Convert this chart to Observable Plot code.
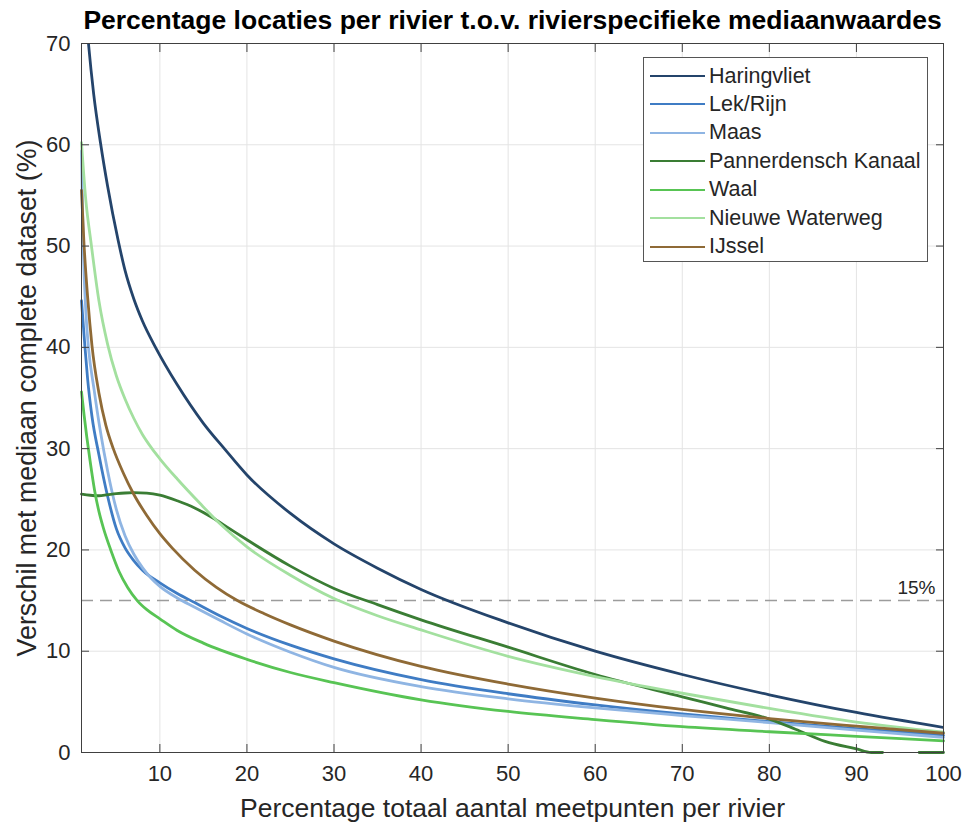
<!DOCTYPE html>
<html><head><meta charset="utf-8">
<script src="https://cdn.jsdelivr.net/npm/d3@7"></script>
<script src="https://cdn.jsdelivr.net/npm/@observablehq/plot@0.6"></script>
<style>
body{margin:0;background:#fff;font-family:"Liberation Sans",Arial,Helvetica,sans-serif;}
#wrap{position:relative;width:965px;height:825px;}
#legend{position:absolute;left:643px;top:57px;width:285px;height:205px;background:#fff;border:1px solid #555;box-sizing:border-box;}
.item{position:absolute;left:6px;height:28px;display:flex;align-items:center;font-size:21.5px;color:#262626;white-space:nowrap;}
.sw{width:55px;height:0;border-top:2.8px solid;margin-right:4px;}
</style></head><body><div id="wrap"></div>
<script>
const title = "Percentage locaties per rivier t.o.v. rivierspecifieke mediaanwaardes";
const xLabel = "Percentage totaal aantal meetpunten per rivier";
const yLabel = "Verschil met mediaan complete dataset (%)";
const xTicks = [10, 20, 30, 40, 50, 60, 70, 80, 90, 100];
const yTicks = [0, 10, 20, 30, 40, 50, 60, 70];
const threshold = 15;
const thresholdLabel = "15%";

const rivers = ["Haringvliet", "Lek/Rijn", "Maas", "Pannerdensch Kanaal", "Waal", "Nieuwe Waterweg", "IJssel"];
const colors = ["#24446b", "#3f7cc4", "#8fb5e3", "#3a7d34", "#58c454", "#a3e09f", "#8f6a36"];

// [x, y] pairs
const haringvliet = [[1.5,73],[1.8,70],[2.4,65.0],[3.18,60.2],[4,55.9],[5.2,50.6],[6,47.6],[7,44.8],[8,42.6],[9.5,40],[12,36.3],[15,32.5],[17.5,29.9],[20,27.4],[25,23.6],[30,20.6],[35,18.2],[40,16.1],[50,12.8],[60,10.0],[70,7.7],[80,5.7],[90,3.95],[100,2.47]];
const lekRijn = [[1,44.6],[1.4,40],[1.7,36.9],[2.2,33.2],[3,29.4],[4,25.3],[5,22.1],[6,20.2],[7,18.95],[8,18.0],[10,16.75],[12,15.7],[14,14.8],[17,13.45],[20,12.25],[25,10.6],[30,9.25],[40,7.2],[50,5.8],[60,4.7],[70,3.8],[80,3.05],[90,2.35],[100,1.7]];
const maas = [[1,59.4],[1.2,50],[1.5,43.5],[1.8,40],[2.45,35.8],[3,32.6],[3.6,29.6],[4,27.8],[5,24.0],[6,21.4],[7,19.6],[8,18.25],[9,17.2],[10,16.4],[12,15.25],[14,14.35],[17,13.0],[20,11.7],[25,9.9],[30,8.4],[40,6.5],[50,5.3],[60,4.4],[70,3.65],[80,2.95],[90,2.2],[100,1.5]];
const pannerdensch = [[1,25.5],[2,25.4],[3,25.35],[4,25.45],[5,25.55],[6,25.62],[7,25.65],[8.5,25.6],[10,25.4],[12,24.85],[14,24.15],[16,23.2],[18,22.1],[20,21.0],[25,18.4],[30,16.2],[35,14.6],[40,13.1],[50,10.4],[60,7.7],[70,5.5],[75,4.4],[80,3.3],[83,2.3],[86.4,1.1],[90,0.35],[91.7,0],[93,0],[95,null],[97.2,0],[100,0]];
const waal = [[1,35.6],[1.3,33.3],[1.6,31.2],[2,28.7],[2.5,25.9],[3,23.8],[3.5,22.2],[4.4,19.9],[5.3,17.9],[6.3,16.3],[7.4,15.0],[8.5,14.1],[10,13.2],[12,12.05],[15,10.8],[20,9.2],[25,7.9],[30,6.9],[40,5.2],[50,4.05],[60,3.25],[70,2.55],[80,2.05],[90,1.6],[100,1.15]];
const nieuweWaterweg = [[1,60.2],[1.5,54.5],[2.1,50.3],[3,44.6],[4,40.3],[5,37.2],[6,34.9],[7,33.0],[8,31.4],[9.1,30.0],[10,29.0],[12,27.0],[14.6,24.6],[17,22.5],[20,20.3],[25,17.5],[30,15.2],[35,13.5],[40,12.1],[50,9.5],[60,7.5],[70,5.85],[80,4.35],[90,3.0],[100,2.0]];
const ijssel = [[1,55.5],[1.27,50.5],[1.7,45],[2.2,40.2],[3,35.5],[3.8,32.3],[4.65,30],[5.8,27.6],[7,25.5],[8.5,23.4],[10,21.6],[11.4,20.2],[14,18.0],[16.5,16.3],[18.9,15.0],[22,13.7],[25,12.6],[30,11.0],[40,8.5],[50,6.75],[60,5.37],[70,4.25],[80,3.35],[90,2.6],[100,1.9]];

const seriesData = [haringvliet, lekRijn, maas, pannerdensch, waal, nieuweWaterweg, ijssel];

const font = "Liberation Sans, Arial, Helvetica, sans-serif";
const axisColor = "#404040";

const lineMarks = seriesData.map((data, i) =>
  Plot.line(data, {x: d => d[0], y: d => d[1], stroke: colors[i], strokeWidth: 2.8, curve: "monotone-x", clip: i === 0})
);

const chart = Plot.plot({
  width: 965, height: 825,
  marginLeft: 81, marginRight: 22, marginTop: 43, marginBottom: 73,
  style: {fontFamily: font, color: "#262626", background: "#fff", overflow: "visible"},
  x: {domain: [1, 100]},
  y: {domain: [0, 70]},
  marks: [
    Plot.gridX(xTicks, {stroke: "#e4e4e4", strokeOpacity: 1, strokeWidth: 1}),
    Plot.gridY(yTicks, {stroke: "#e4e4e4", strokeOpacity: 1, strokeWidth: 1}),
    Plot.ruleY([threshold], {stroke: "#9c9c9c", strokeWidth: 1.6, strokeDasharray: "12,7"}),
    ...lineMarks,
    Plot.text([thresholdLabel], {x: 100, y: threshold, text: d => d, dx: -8, dy: -13, textAnchor: "end", fontSize: 19, fill: "#262626"}),
    Plot.frame({stroke: axisColor, strokeWidth: 1}),
    Plot.axisX(xTicks, {anchor: "bottom", tickSize: 0, tickPadding: 13, fontSize: 22, label: null, fill: "#262626"}),
    Plot.axisX(xTicks, {anchor: "bottom", tickSize: -8, tickFormat: () => "", label: null, stroke: axisColor}),
    Plot.axisX(xTicks, {anchor: "top", tickSize: -8, tickFormat: () => "", label: null, stroke: axisColor}),
    Plot.axisY(yTicks, {anchor: "left", tickSize: 0, tickPadding: 11, fontSize: 22, label: null, fill: "#262626"}),
    Plot.axisY(yTicks, {anchor: "left", tickSize: -8, tickFormat: () => "", label: null, stroke: axisColor}),
    Plot.axisY(yTicks, {anchor: "right", tickSize: -8, tickFormat: () => "", label: null, stroke: axisColor}),
    Plot.text([title], {frameAnchor: "top", text: d => d, dy: -23, fontSize: 26.5, fontWeight: "bold", lineAnchor: "middle", fill: "#000"}),
    Plot.text([xLabel], {frameAnchor: "bottom", text: d => d, dy: 56, fontSize: 26.5, lineAnchor: "middle", fill: "#262626"}),
    Plot.text([yLabel], {frameAnchor: "left", text: d => d, dx: -54, rotate: -90, fontSize: 26.8, lineAnchor: "middle", textAnchor: "middle", fill: "#262626"})
  ]
});

const wrap = document.getElementById("wrap");
wrap.appendChild(chart);

const legend = document.createElement("div");
legend.id = "legend";
rivers.forEach((name, i) => {
  const item = document.createElement("div");
  item.className = "item";
  item.style.top = (18 + i * 28.45 - 14) + "px";
  const sw = document.createElement("span");
  sw.className = "sw";
  sw.style.borderTopColor = colors[i];
  const label = document.createElement("span");
  label.textContent = name;
  item.appendChild(sw);
  item.appendChild(label);
  legend.appendChild(item);
});
wrap.appendChild(legend);
</script></body></html>
